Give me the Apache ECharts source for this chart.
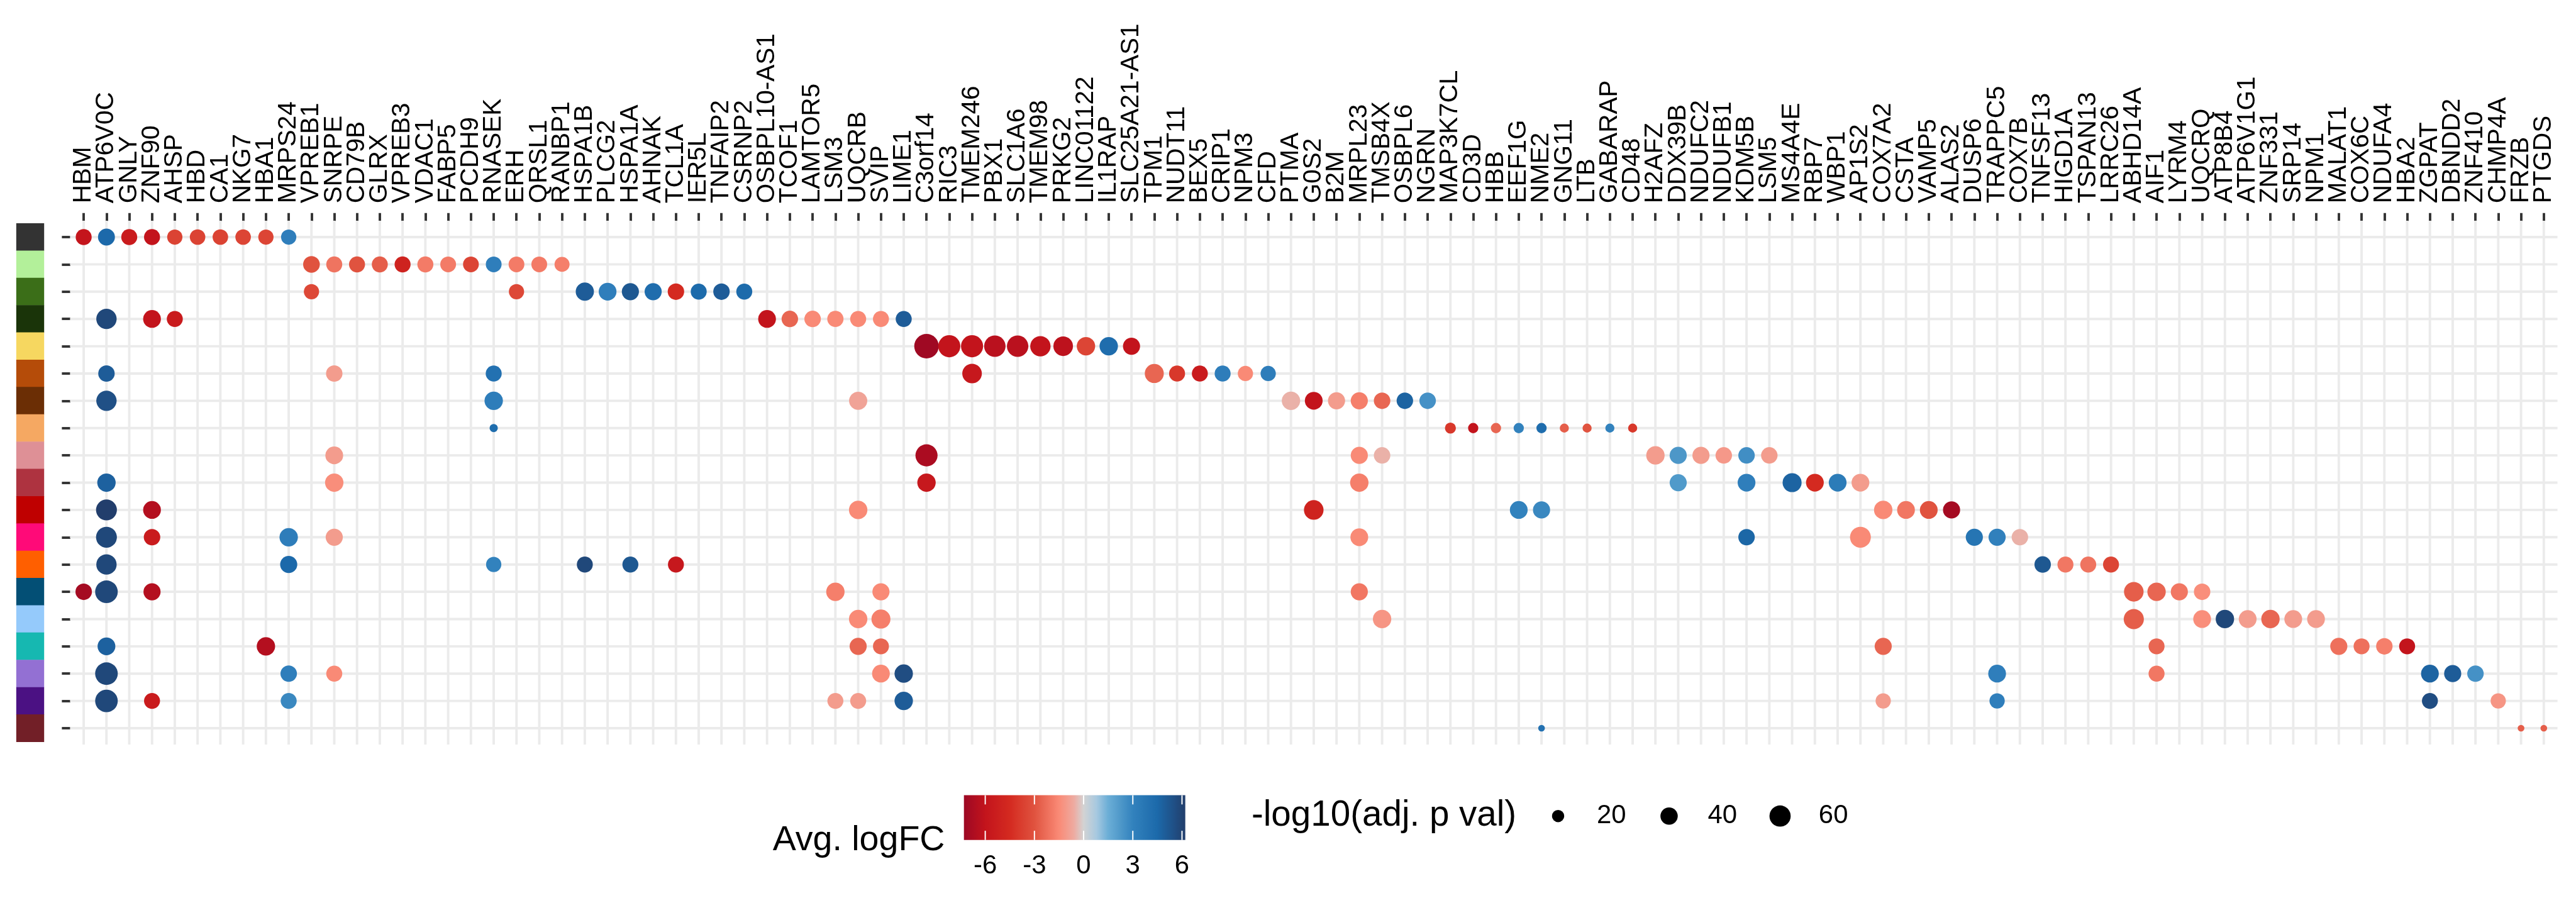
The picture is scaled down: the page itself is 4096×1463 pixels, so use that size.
<!DOCTYPE html>
<html>
<head>
<meta charset="utf-8">
<script src="https://cdn.jsdelivr.net/npm/echarts@6/dist/echarts.min.js"></script>
<style>html,body{margin:0;padding:0;background:#fff}#chart{width:4096px;height:1463px}</style>
</head>
<body>
<div id="chart"></div>
<script>
// ---------------- data ----------------
const genes = ['HBM','ATP6V0C','GNLY','ZNF90','AHSP','HBD','CA1','NKG7','HBA1','MRPS24','VPREB1','SNRPE','CD79B','GLRX','VPREB3','VDAC1','FABP5','PCDH9','RNASEK','ERH','QRSL1','RANBP1','HSPA1B','PLCG2','HSPA1A','AHNAK','TCL1A','IER5L','TNFAIP2','CSRNP2','OSBPL10-AS1','TCOF1','LAMTOR5','LSM3','UQCRB','SVIP','LIME1','C3orf14','RIC3','TMEM246','PBX1','SLC1A6','TMEM98','PRKG2','LINC01122','IL1RAP','SLC25A21-AS1','TPM1','NUDT11','BEX5','CRIP1','NPM3','CFD','PTMA','G0S2','B2M','MRPL23','TMSB4X','OSBPL6','NGRN','MAP3K7CL','CD3D','HBB','EEF1G','NME2','GNG11','LTB','GABARAP','CD48','H2AFZ','DDX39B','NDUFC2','NDUFB1','KDM5B','LSM5','MS4A4E','RBP7','WBP1','AP1S2','COX7A2','CSTA','VAMP5','ALAS2','DUSP6','TRAPPC5','COX7B','TNFSF13','HIGD1A','TSPAN13','LRRC26','ABHD14A','AIF1','LYRM4','UQCRQ','ATP8B4','ATP6V1G1','ZNF331','SRP14','NPM1','MALAT1','COX6C','NDUFA4','HBA2','ZGPAT','DBNDD2','ZNF410','CHMP4A','FRZB','PTGDS'];

const clusters = ['1','2','3','4','5','6','7','8','9','10','11','12','13','14','15','16','17','18','19'];
const clusterColors = ['#333333','#b3f09a','#3b6e18','#1a3409','#f6d760','#b54c09','#6b2e05','#f5a862','#de9096','#ae3340','#bf0000','#ff0a78','#ff5f00','#034f75','#95cafb','#16b8b1','#9370d3','#4b1183','#721f27'];

// [gene, cluster, avg logFC, -log10(adj p)]
const dots = [
 ['HBM',1,-5.9,34],['ATP6V0C',1,4.5,38],['GNLY',1,-5.5,34],['ZNF90',1,-6.0,34],['AHSP',1,-3.6,31],['HBD',1,-3.6,32],['CA1',1,-3.6,32],['NKG7',1,-3.5,32],['HBA1',1,-3.5,31],['MRPS24',1,3.2,31],
 ['VPREB1',2,-3.0,37],['SNRPE',2,-2.1,34],['CD79B',2,-3.0,34],['GLRX',2,-2.7,34],['VPREB3',2,-5.0,34],['VDAC1',2,-1.9,34],['FABP5',2,-1.9,33],['PCDH9',2,-3.5,33],['RNASEK',2,3.2,33],['ERH',2,-1.9,33],['QRSL1',2,-1.9,33],['RANBP1',2,-1.8,30],
 ['VPREB1',3,-3.4,31],['ERH',3,-3.4,31],['HSPA1B',3,5.0,44],['PLCG2',3,3.2,42],['HSPA1A',3,5.2,39],['AHNAK',3,4.3,39],['TCL1A',3,-4.5,36],['IER5L',3,4.4,34],['TNFAIP2',3,5.0,36],['CSRNP2',3,4.4,34],
 ['ATP6V0C',4,5.8,55],['ZNF90',4,-6.0,42],['AHSP',4,-5.5,34],['OSBPL10-AS1',4,-6.0,42],['TCOF1',4,-2.5,36],['LAMTOR5',4,-1.5,36],['LSM3',4,-1.5,35],['UQCRB',4,-1.5,34],['SVIP',4,-1.5,34],['LIME1',4,5.0,34],
 ['C3orf14',5,-7.2,80],['RIC3',5,-6.0,65],['TMEM246',5,-6.0,65],['PBX1',5,-6.3,61],['SLC1A6',5,-6.3,61],['TMEM98',5,-6.0,55],['PRKG2',5,-6.2,51],['LINC01122',5,-3.5,45],['IL1RAP',5,4.3,45],['SLC25A21-AS1',5,-6.0,39],
 ['ATP6V0C',6,5.0,36],['SNRPE',6,-1.0,36],['RNASEK',6,4.0,34],['TMEM246',6,-5.7,51],['TPM1',6,-2.5,48],['NUDT11',6,-4.0,34],['BEX5',6,-5.5,34],['CRIP1',6,3.3,34],['NPM3',6,-1.5,31],['CFD',6,3.3,31],
 ['ATP6V0C',7,5.5,55],['RNASEK',7,3.3,45],['UQCRB',7,-0.8,44],['PTMA',7,-0.5,45],['G0S2',7,-6.0,42],['B2M',7,-1.0,39],['MRPL23',7,-1.8,39],['TMSB4X',7,-2.5,36],['OSBPL6',7,4.7,36],['NGRN',7,2.5,36],
 ['RNASEK',8,4.3,9],['MAP3K7CL',8,-4.0,16],['CD3D',8,-6.0,14],['HBB',8,-2.5,14],['EEF1G',8,3.0,14],['NME2',8,4.3,14],['GNG11',8,-2.7,11],['LTB',8,-3.0,11],['GABARAP',8,3.0,11],['CD48',8,-4.0,11],
 ['SNRPE',9,-1.0,42],['C3orf14',9,-6.8,65],['MRPL23',9,-1.5,39],['TMSB4X',9,-0.5,36],['H2AFZ',9,-1.0,45],['DDX39B',9,2.3,39],['NDUFC2',9,-1.0,39],['NDUFB1',9,-1.1,36],['KDM5B',9,2.6,36],['LSM5',9,-1.0,36],
 ['ATP6V0C',10,4.8,45],['SNRPE',10,-1.4,45],['C3orf14',10,-5.7,45],['MRPL23',10,-1.8,45],['DDX39B',10,2.2,39],['KDM5B',10,3.2,42],['MS4A4E',10,4.7,48],['RBP7',10,-4.5,42],['WBP1',10,3.4,42],['AP1S2',10,-1.0,42],
 ['ATP6V0C',11,6.2,58],['ZNF90',11,-6.5,42],['UQCRB',11,-1.5,45],['G0S2',11,-5.0,51],['EEF1G',11,3.0,42],['NME2',11,2.8,39],['COX7A2',11,-1.5,45],['CSTA',11,-2.0,42],['VAMP5',11,-3.0,42],['ALAS2',11,-7.0,39],
 ['ATP6V0C',12,5.8,58],['ZNF90',12,-5.5,36],['MRPS24',12,3.3,45],['SNRPE',12,-1.0,39],['MRPL23',12,-1.5,42],['KDM5B',12,4.6,36],['AP1S2',12,-1.5,58],['DUSP6',12,3.8,39],['TRAPPC5',12,3.1,39],['COX7B',12,-0.5,36],
 ['ATP6V0C',13,5.8,55],['MRPS24',13,4.5,39],['RNASEK',13,3.0,31],['HSPA1B',13,5.8,34],['HSPA1A',13,5.2,34],['TCL1A',13,-5.7,34],['TNFSF13',13,5.2,36],['HIGD1A',13,-2.0,34],['TSPAN13',13,-2.1,34],['LRRC26',13,-3.5,34],
 ['HBM',14,-7.0,36],['ATP6V0C',14,5.8,68],['ZNF90',14,-6.5,39],['LSM3',14,-1.8,45],['SVIP',14,-1.5,39],['MRPL23',14,-2.0,39],['ABHD14A',14,-2.7,51],['AIF1',14,-2.5,45],['LYRM4',14,-2.0,39],['UQCRQ',14,-1.4,36],
 ['UQCRB',15,-1.5,45],['SVIP',15,-1.8,48],['TMSB4X',15,-1.2,45],['ABHD14A',15,-2.7,54],['UQCRQ',15,-1.4,42],['ATP8B4',15,5.8,45],['ATP6V1G1',15,-1.0,42],['ZNF331',15,-2.5,45],['SRP14',15,-1.0,42],['NPM1',15,-1.0,42],
 ['ATP6V0C',16,4.8,42],['HBA1',16,-6.5,45],['UQCRB',16,-2.5,39],['SVIP',16,-2.5,34],['COX7A2',16,-2.5,39],['AIF1',16,-2.5,34],['MALAT1',16,-2.2,39],['COX6C',16,-2.2,34],['NDUFA4',16,-1.8,36],['HBA2',16,-6.0,34],
 ['ATP6V0C',17,5.8,68],['MRPS24',17,3.2,36],['SNRPE',17,-1.5,34],['SVIP',17,-1.5,42],['LIME1',17,5.6,45],['TRAPPC5',17,3.2,42],['AIF1',17,-2.0,34],['ZGPAT',17,4.7,42],['DBNDD2',17,5.0,39],['ZNF410',17,2.5,36],
 ['ATP6V0C',18,5.8,68],['ZNF90',18,-5.5,34],['MRPS24',18,2.8,34],['LSM3',18,-1.0,34],['UQCRB',18,-1.0,34],['LIME1',18,5.0,45],['COX7A2',18,-1.0,31],['TRAPPC5',18,3.2,31],['ZGPAT',18,5.6,34],['CHMP4A',18,-1.2,31],
 ['NME2',19,4.0,6],['FRZB',19,-2.7,6],['PTGDS',19,-2.7,6]
];

const colorTicks = [-6, -3, 0, 3, 6];
const sizeTicks = [20, 40, 60];
const fcMin = -7.3, fcMax = 6.2;

// ---------------- styling ----------------
const S = 0.975;
const px = v => v * S;
const FONT = 'Liberation Sans, Arial, Helvetica, sans-serif';
const palette = [
  [-7.3,'#9c0824'],[-6.0,'#c3141c'],[-4.5,'#d42a20'],[-3.0,'#e0533f'],[-1.5,'#fa8a76'],
  [-0.6,'#eeaaa0'],[0,'#d3d3d3'],[0.8,'#a6c8e0'],[1.5,'#6baed6'],[3.0,'#3282bd'],
  [4.5,'#1c69aa'],[6.2,'#223e6c']
];
function hex2rgb(h){return [parseInt(h.slice(1,3),16),parseInt(h.slice(3,5),16),parseInt(h.slice(5,7),16)];}
function colorAt(v){
  for(let i=0;i<palette.length-1;i++){
    const [a,ca]=palette[i],[b,cb]=palette[i+1];
    if(v<=b||i===palette.length-2){
      const t=Math.max(0,Math.min(1,(v-a)/(b-a)));
      const A=hex2rgb(ca),B=hex2rgb(cb);
      const c=A.map((x,k)=>Math.round(x+(B[k]-x)*t));
      return 'rgb('+c.join(',')+')';
    }
  }
}
const rampColors = [];
for(let i=0;i<=120;i++) rampColors.push(colorAt(fcMin+(fcMax-fcMin)*i/120));

const K = px(4.47); // diameter per sqrt(-log10 p)
const dia = v => K*Math.sqrt(v);

const panel = {left:117.9, right:4167.1, top:364.45, bottom:1209.95};
const gridMain = {left:px(panel.left), top:px(panel.top), width:px(panel.right-panel.left), height:px(panel.bottom-panel.top)};
const gridSq = {left:px(26.5), top:px(panel.top), width:px(45.5), height:px(panel.bottom-panel.top)};

// ---------------- chart ----------------
const chart = echarts.init(document.getElementById('chart'), null, {renderer:'canvas'});

const lineStyleGrid = {stroke:'#ebebeb', lineWidth:px(4)};
const xTickOffset = px(4), xTickLen = px(13), xLabelGap = px(29);

const option = {
  backgroundColor:'#ffffff',
  animation:false,
  textStyle:{fontFamily:FONT},
  grid:[
    Object.assign({containLabel:false}, gridMain),
    Object.assign({containLabel:false}, gridSq)
  ],
  xAxis:[
    {type:'category', gridIndex:0, data:genes, position:'top', boundaryGap:true, offset:xTickOffset,
     axisLine:{show:false}, splitLine:{show:false}, axisLabel:{show:false},
     axisTick:{show:true, alignWithLabel:true, interval:0, length:xTickLen, lineStyle:{color:'#333333', width:px(4)}}},
    {type:'value', gridIndex:1, min:0, max:1, show:false}
  ],
  yAxis:[
    {type:'category', gridIndex:0, data:clusters, inverse:true, boundaryGap:true, offset:px(3),
     axisLine:{show:false}, splitLine:{show:false}, axisLabel:{show:false},
     axisTick:{show:true, alignWithLabel:true, interval:0, length:px(14), lineStyle:{color:'#333333', width:px(4)}}},
    {type:'category', gridIndex:1, data:clusters, inverse:true, show:false}
  ],
  visualMap:[{
    type:'continuous', show:false, seriesIndex:2, dimension:2, min:fcMin, max:fcMax,
    inRange:{color:rampColors}
  }],
  series:[
    { // vertical grid lines, one per gene
      type:'custom', xAxisIndex:0, yAxisIndex:0, clip:false, silent:true, z:1,
      data:genes.map(g=>[g, clusters[0]]),
      renderItem:(params, api)=>{
        const cs=params.coordSys, p=api.coord([api.value(0), api.value(1)]);
        const rowH=api.size([0,1])[1];
        return {type:'line', shape:{x1:p[0], y1:cs.y-0.1*rowH, x2:p[0], y2:cs.y+cs.height+0.1*rowH}, style:lineStyleGrid};
      }
    },
    { // horizontal grid lines, one per cluster
      type:'custom', xAxisIndex:0, yAxisIndex:0, clip:false, silent:true, z:1,
      data:clusters.map(c=>[genes[0], c]),
      renderItem:(params, api)=>{
        const cs=params.coordSys, p=api.coord([api.value(0), api.value(1)]);
        const colW=api.size([1,0])[0];
        return {type:'line', shape:{x1:cs.x-0.1*colW, y1:p[1], x2:cs.x+cs.width+0.1*colW, y2:p[1]}, style:lineStyleGrid};
      }
    },
    { // dots
      type:'scatter', xAxisIndex:0, yAxisIndex:0, z:5,
      data:dots.map(d=>[d[0], clusters[d[1]-1], d[2], d[3]]),
      encode:{x:0, y:1},
      symbol:'circle',
      symbolSize:(val)=>dia(val[3]),
      itemStyle:{opacity:1}
    },
    { // cluster colour strip
      type:'custom', xAxisIndex:1, yAxisIndex:1, silent:true,
      data:clusters.map(c=>[0, c]),
      renderItem:(params, api)=>{
        const cs=params.coordSys, p=api.coord([0, api.value(1)]);
        const h=api.size([0,1])[1];
        return {type:'rect', shape:{x:cs.x, y:p[1]-h/2-0.3, width:cs.width, height:h+0.6},
                style:{fill:clusterColors[params.dataIndex]}};
      }
    },
    { // gene labels above the panel, placed by the category axis
      type:'custom', xAxisIndex:0, yAxisIndex:0, clip:false, silent:true, z:6,
      data:genes.map(g=>[g, clusters[0]]),
      renderItem:(params, api)=>{
        const cs=params.coordSys, x=api.coord([api.value(0), api.value(1)])[0];
        return {type:'text', x:x, y:cs.y - xTickOffset - xLabelGap, rotation:Math.PI/2,
                style:{text:genes[params.dataIndex], fontSize:px(41.5), fontFamily:FONT, fill:'#000',
                       align:'left', verticalAlign:'middle'}};
      }
    }
  ],
  graphic:[]
};

// ---------------- legends (graphic) ----------------
const g = [];
const cb = {x:1572, y:1297, w:361, h:73};
g.push({type:'text', x:px(1541), y:px(1371), style:{text:'Avg. logFC', font:px(57)+'px '+FONT, fill:'#000', textAlign:'right', textVerticalAlign:'middle'}});
g.push({type:'rect', x:px(cb.x), y:px(cb.y), shape:{x:0,y:0,width:px(cb.w),height:px(cb.h)},
  style:{fill:new echarts.graphic.LinearGradient(0,0,1,0, rampColors.map((c,i)=>({offset:i/(rampColors.length-1), color:c})))}});
colorTicks.forEach(t=>{
  const x = px(cb.x) + (t-fcMin)/(fcMax-fcMin)*px(cb.w);
  g.push({type:'line', shape:{x1:x,y1:px(cb.y),x2:x,y2:px(cb.y+15)}, style:{stroke:'#ffffff', lineWidth:px(2)}});
  g.push({type:'line', shape:{x1:x,y1:px(cb.y+cb.h-15),x2:x,y2:px(cb.y+cb.h)}, style:{stroke:'#ffffff', lineWidth:px(2)}});
  g.push({type:'text', x:x, y:px(1413), style:{text:String(t), font:px(43)+'px '+FONT, fill:'#000', textAlign:'center', textVerticalAlign:'middle'}});
});
g.push({type:'text', x:px(2041), y:px(1331), style:{text:'-log10(adj. p val)', font:px(58)+'px '+FONT, fill:'#000', textAlign:'left', textVerticalAlign:'middle'}});
sizeTicks.forEach((v,i)=>{
  const cx = px(2541 + i*181);
  g.push({type:'circle', shape:{cx:cx, cy:px(1331), r:dia(v)/2}, style:{fill:'#000'}});
  g.push({type:'text', x:cx+px(63), y:px(1331), style:{text:String(v), font:px(43)+'px '+FONT, fill:'#000', textAlign:'left', textVerticalAlign:'middle'}});
});
option.graphic = g;

chart.setOption(option);
</script>
</body>
</html>
